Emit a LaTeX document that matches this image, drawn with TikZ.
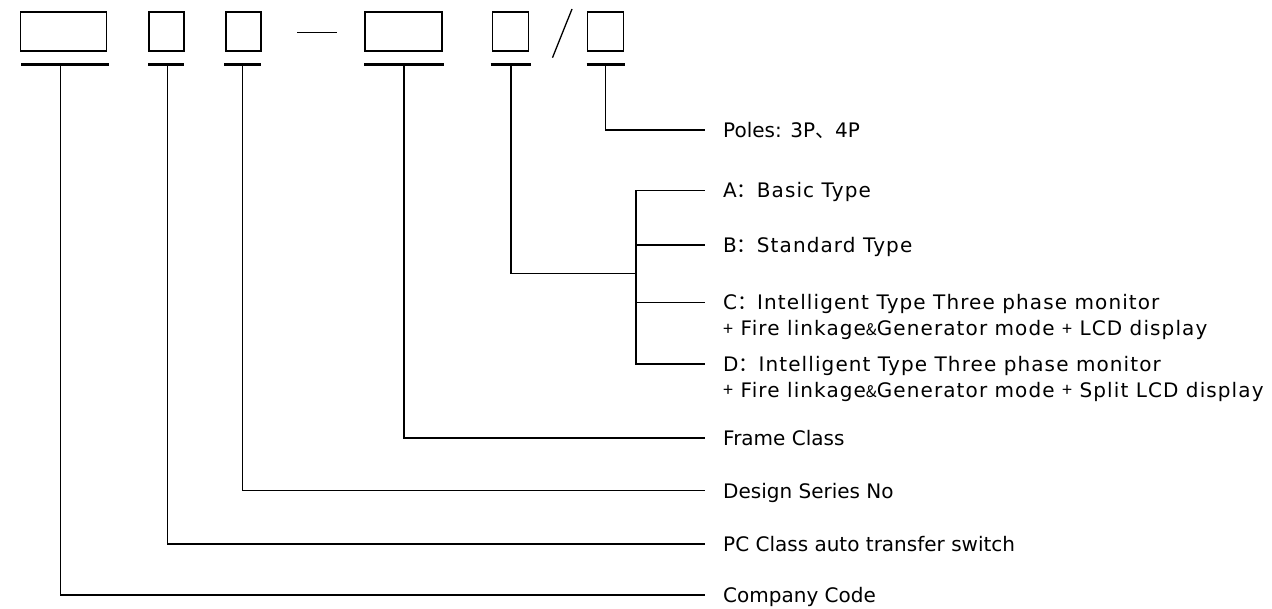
\documentclass[tikz,border=0pt]{standalone}
\usepackage{fontspec}
\setmainfont{DejaVu Sans}
\newfontfamily\cjk{Noto Sans CJK SC}
\newfontfamily\spaced[LetterSpace=5.5]{DejaVu Sans}
% small plus and ampersand used in the long options
\newcommand{\smallsym}[1]{{\cjk\fontsize{16pt}{16pt}\selectfont #1}}
\newcommand{\smallplus}{{\cjk\fontsize{18pt}{18pt}\selectfont\raisebox{0.5pt}{+}}}
\newcommand{\wide}[1]{{\cjk #1}}
\begin{document}
\begin{tikzpicture}[x=1pt, y=-1pt,
  codebox/.style={draw, line width=1.5pt, inner sep=0pt, minimum height=39pt},
  underbar/.style={line width=2.6pt},
  conn/.style={line width=1.2pt},
  lbl/.style={anchor=west, inner sep=0pt, font=\fontsize{20pt}{24pt}\selectfont, text height=14.6pt, text depth=0pt},
  opt/.style={lbl, font=\spaced\fontsize{20pt}{24pt}\selectfont}]
\useasboundingbox (0,0) rectangle (1272,609);

% Set the label column
\def\labelx{723}
\def\gap{-18pt}

% Draw the code boxes
\node[codebox, minimum width=86pt] (box1) at (63.7, 31.5) {};
\node[codebox, minimum width=35pt] (box2) at (166.5, 31.5) {};
\node[codebox, minimum width=35pt] (box3) at (243.5, 31.5) {};
\node[codebox, minimum width=77pt] (box4) at (403.3, 31.5) {};
\node[codebox, minimum width=36pt] (box5) at (510.7, 31.5) {};
\node[codebox, minimum width=35.6pt] (box6) at (605.5, 31.5) {};

% Dash and slash between the boxes
\draw[line width=1.5pt] (297.3, 32.3) -- (336.7, 32.3);
\draw[line width=1.3pt] (552.5, 57.7) -- (572, 9);

% Underbars
\draw[underbar] (21, 64.3) -- (109, 64.3);
\draw[underbar] (148.3, 64.3) -- (184.3, 64.3);
\draw[underbar] (224, 64.3) -- (261, 64.3);
\draw[underbar] (364, 64.3) -- (444, 64.3);
\draw[underbar] (490.7, 64.3) -- (530.7, 64.3);
\draw[underbar] (586.7, 64.3) -- (625, 64.3);

% Stem points under the bars
\coordinate (stem1) at (60.5, 64.3);
\coordinate (stem2) at (167.3, 64.3);
\coordinate (stem3) at (242.3, 64.3);
\coordinate (stem4) at (404, 64.3);
\coordinate (stem5) at (511, 64.3);
\coordinate (stem6) at (605.7, 64.3);
\coordinate (hub) at (636, 273.3);

% Insert the labels
\node[lbl] (poles) at (\labelx, 130) {Poles: 3P\wide{、}4P};
\node[opt] (optA) at (\labelx, 190.7) {A\wide{：}Basic Type};
\node[opt] (optB) at (\labelx, 245) {B\wide{：}Standard Type};
\node[opt] (optC) at (\labelx, 302.7) {C\wide{：}Intelligent Type Three phase monitor};
\node[opt] (optCx) at (\labelx, 328.7) {\smallplus{} Fire linkage\smallsym{\&}Generator mode \smallplus{} LCD display};
\node[opt] (optD) at (\labelx, 364) {D\wide{：}Intelligent Type Three phase monitor};
\node[opt] (optDx) at (\labelx, 390) {\smallplus{} Fire linkage\smallsym{\&}Generator mode \smallplus{} Split LCD display};
\node[lbl] (frame) at (\labelx, 438) {Frame Class};
\node[lbl] (series) at (\labelx, 490.7) {Design Series No};
\node[lbl] (pcclass) at (\labelx, 544) {PC Class auto transfer switch};
\node[lbl] (company) at (\labelx, 595) {Company Code};

% Connect the bars to the labels
\draw[conn] (stem6) |- ([xshift=\gap]poles.west);
\draw[conn] (stem5) |- (hub);
\draw[conn] (hub) |- ([xshift=\gap]optA.west);
\draw[conn] (hub) |- ([xshift=\gap]optB.west);
\draw[conn] (hub) |- ([xshift=\gap]optC.west);
\draw[conn] (hub) |- ([xshift=\gap]optD.west);
\draw[conn] (stem4) |- ([xshift=\gap]frame.west);
\draw[conn] (stem3) |- ([xshift=\gap]series.west);
\draw[conn] (stem2) |- ([xshift=\gap]pcclass.west);
\draw[conn] (stem1) |- ([xshift=\gap]company.west);
\end{tikzpicture}
\end{document}
